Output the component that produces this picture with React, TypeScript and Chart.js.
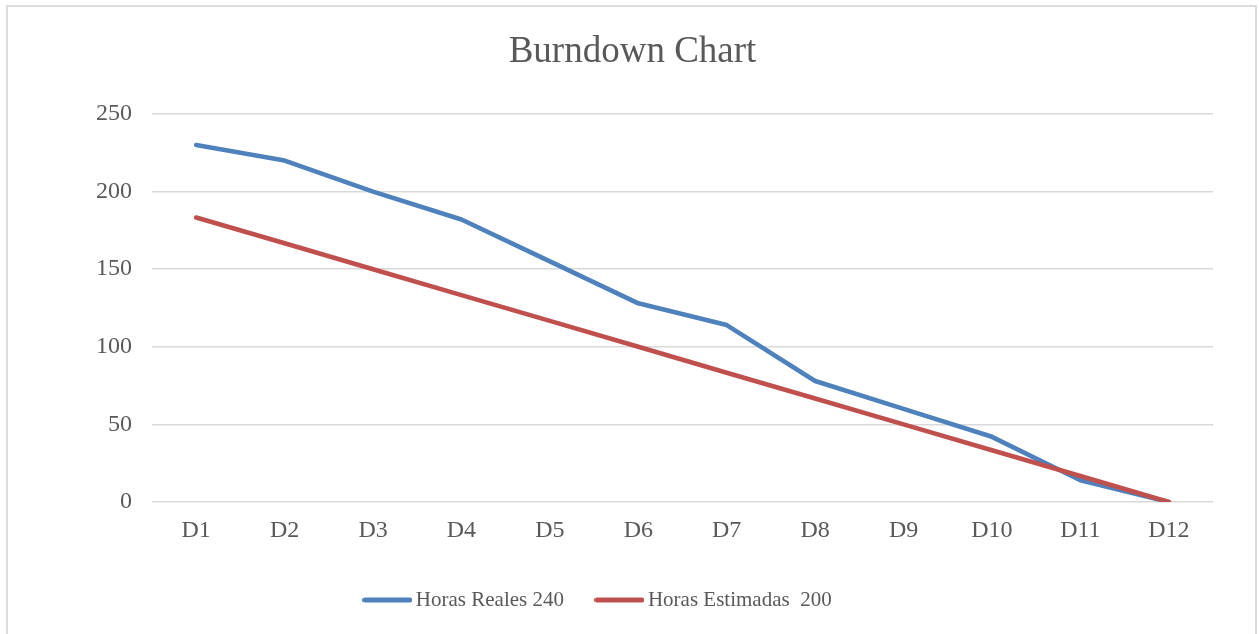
import React, { useEffect, useRef } from "react";
import { Chart, registerables } from "chart.js";

Chart.register(...registerables);

const days: string[] = ["D1", "D2", "D3", "D4", "D5", "D6", "D7", "D8", "D9", "D10", "D11", "D12"];
const horasReales: number[] = [230, 220, 200, 182, 155, 128, 114, 78, 60, 42, 14, 0];
const horasEstimadas: number[] = [183.3, 166.7, 150, 133.3, 116.7, 100, 83.3, 66.7, 50, 33.3, 16.7, 0];
const seriesLabels: string[] = ["Horas Reales 240", "Horas Estimadas  200"];
const seriesColors: string[] = ["#4F81BD", "#C0504D"];
const yMin = 0;
const yMax = 250;
const yStep = 50;

const SERIF = "'Liberation Serif', 'Times New Roman', serif";
const TEXT = "#595959";
const TITLE_SHIFT = 26;
const LEGEND_SHIFT = -6;

function legendLine(color: string): HTMLCanvasElement {
  const c = document.createElement("canvas");
  c.width = 50;
  c.height = 8;
  const g = c.getContext("2d")!;
  g.strokeStyle = color;
  g.lineWidth = 5;
  g.lineCap = "round";
  g.beginPath();
  g.moveTo(2.5, 4);
  g.lineTo(47.5, 4);
  g.stroke();
  return c;
}

const shiftBoxes = {
  id: "shiftBoxes",
  afterLayout(chart: any) {
    const t = chart.titleBlock;
    if (t) {
      t.left += TITLE_SHIFT;
      t.right += TITLE_SHIFT;
    }
    const l = chart.legend;
    if (l) {
      l.left += LEGEND_SHIFT;
      l.right += LEGEND_SHIFT;
    }
  },
};

export default function App() {
  const ref = useRef<HTMLCanvasElement | null>(null);

  useEffect(() => {
    document.body.style.margin = "0";
    document.body.style.overflow = "hidden";
    const canvas = ref.current;
    if (!canvas) return;
    const icons = seriesColors.map(legendLine);
    const chart = new Chart(canvas, {
      type: "line",
      plugins: [shiftBoxes],
      data: {
        labels: days,
        datasets: [
          {
            label: seriesLabels[0],
            data: horasReales,
            borderColor: seriesColors[0],
            backgroundColor: seriesColors[0],
            borderWidth: 4.6,
            borderCapStyle: "round",
            borderJoinStyle: "round",
            pointRadius: 0,
            tension: 0,
            order: 2,
          },
          {
            label: seriesLabels[1],
            data: horasEstimadas,
            borderColor: seriesColors[1],
            backgroundColor: seriesColors[1],
            borderWidth: 4.6,
            borderCapStyle: "round",
            borderJoinStyle: "round",
            pointRadius: 0,
            tension: 0,
            order: 1,
          },
        ],
      },
      options: {
        animation: false,
        responsive: false,
        devicePixelRatio: 1,
        layout: { padding: { left: 0, right: 46, top: 0, bottom: 13.5 } },
        plugins: {
          title: {
            display: true,
            text: "Burndown Chart",
            color: TEXT,
            font: { family: SERIF, size: 37, weight: "normal", lineHeight: 1.2 },
            padding: { top: 30, bottom: 39.6 },
          },
          legend: {
            display: true,
            position: "bottom",
            labels: {
              color: TEXT,
              font: { family: SERIF, size: 21 },
              padding: 37.5,
              usePointStyle: true,
              pointStyleWidth: 36,
              generateLabels: (c: any) =>
                c.data.datasets.map((ds: any, i: number) => ({
                  text: ds.label,
                  fillStyle: ds.borderColor,
                  strokeStyle: ds.borderColor,
                  lineWidth: 0,
                  pointStyle: icons[i],
                  fontColor: TEXT,
                  hidden: false,
                  datasetIndex: i,
                })),
            },
          },
          tooltip: { enabled: false },
        },
        scales: {
          x: {
            offset: true,
            grid: { display: false, drawTicks: false },
            border: { display: false },
            ticks: { color: TEXT, font: { family: SERIF, size: 24 }, padding: 14, maxRotation: 0 },
            afterFit: (s: any) => {
              s.height = 50;
            },
          },
          y: {
            min: yMin,
            max: yMax,
            grid: { color: "#d9d9d9", lineWidth: 1.5, drawTicks: false },
            border: { display: false },
            ticks: { stepSize: yStep, color: TEXT, font: { family: SERIF, size: 24 }, padding: 20 },
            afterFit: (s: any) => {
              s.width = 152;
            },
          },
        },
      },
    });
    return () => chart.destroy();
  }, []);

  return (
    <div style={{ position: "fixed", left: 0, top: 0, width: 1259, height: 634, overflow: "hidden", background: "#fff" }}>
      <div
        style={{
          position: "absolute",
          left: 6,
          top: 5,
          width: 1251,
          height: 700,
          boxSizing: "border-box",
          border: "2px solid #dcdcdc",
        }}
      />
      <canvas ref={ref} width={1259} height={634} style={{ position: "absolute", left: 0, top: 0, width: 1259, height: 634 }} />
    </div>
  );
}
